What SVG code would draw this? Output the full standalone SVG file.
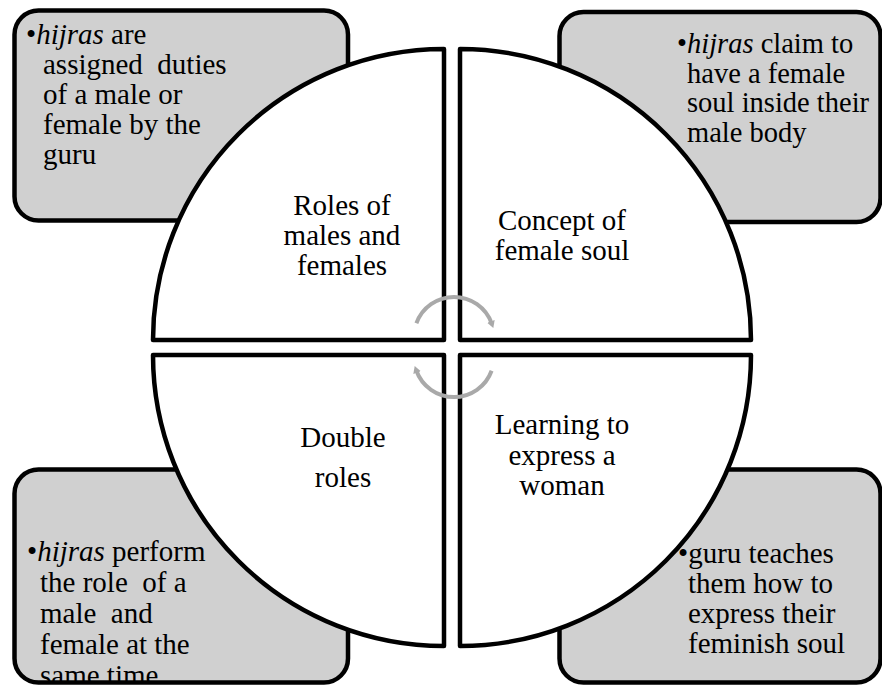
<svg xmlns="http://www.w3.org/2000/svg" width="882" height="686" viewBox="0 0 882 686">
  <style>
    .box { fill: #d0d0d0; stroke: #000; stroke-width: 4.5; }
    .quad { fill: #fff; stroke: #000; stroke-width: 4.5; stroke-linejoin: round; }
    .mid { text-anchor: middle; }
    .cycle { fill: none; stroke: #a9a9a9; stroke-width: 4; }
    text { white-space: pre; }
  </style>
  <defs>
    <marker id="tip" markerUnits="userSpaceOnUse" markerWidth="12" markerHeight="12" refX="2" refY="5" orient="auto">
      <path d="M0,1 L7,5 L0,9 Z" fill="#a9a9a9"/>
    </marker>
    <clipPath id="clipBL"><rect x="14" y="470" width="334" height="211"/></clipPath>
  </defs>

  <rect x="0" y="0" width="882" height="686" fill="#fff"/>

  <!-- side panels -->
  <g id="panel-tl">
    <rect class="box" x="14.5" y="10.5" width="333.5" height="210" rx="24"/>
  </g>
  <g id="panel-tr">
    <rect class="box" x="559.5" y="12" width="321" height="210" rx="24"/>
  </g>
  <g id="panel-bl">
    <rect class="box" x="14.5" y="469.5" width="333.5" height="213" rx="24"/>
  </g>
  <g id="panel-br">
    <rect class="box" x="559.5" y="469.5" width="321" height="213" rx="24"/>
  </g>

  <g font-family="Liberation Serif, Times New Roman, Times, DejaVu Serif, Noto Serif, serif" font-size="29" fill="#000">
  <!-- circle quadrants -->
  <g id="quad-tl">
    <path class="quad" d="M444,340 L444,49 A291,291 0 0 0 153,340 Z"/>
    <text class="mid" x="342" y="215">Roles of</text>
    <text class="mid" x="342" y="245">males and</text>
    <text class="mid" x="342" y="275">females</text>
  </g>
  <g id="quad-tr">
    <path class="quad" d="M460,340 L460,49 A291,291 0 0 1 751,340 Z"/>
    <text class="mid" x="562" y="230">Concept of</text>
    <text class="mid" x="562" y="260">female soul</text>
  </g>
  <g id="quad-bl">
    <path class="quad" d="M444,355 L153,355 A291,291 0 0 0 444,646 Z"/>
    <text class="mid" x="343" y="447">Double</text>
    <text class="mid" x="343" y="487">roles</text>
  </g>
  <g id="quad-br">
    <path class="quad" d="M460,355 L751,355 A291,291 0 0 1 460,646 Z"/>
    <text class="mid" x="562" y="434">Learning to</text>
    <text class="mid" x="562" y="465">express a</text>
    <text class="mid" x="562" y="495">woman</text>
  </g>

  <!-- panel texts -->
  <g id="text-tl">
    <text x="26" y="44">•<tspan font-style="italic">hijras</tspan> are</text>
    <text x="43" y="74">assigned  duties</text>
    <text x="43" y="104">of a male or</text>
    <text x="43" y="134">female by the</text>
    <text x="43" y="164">guru</text>
  </g>
  <g id="text-tr" font-size="28.5">
    <text x="677" y="53">•<tspan font-style="italic">hijras</tspan> claim to</text>
    <text x="687" y="82.5">have a female</text>
    <text x="687" y="112">soul inside their</text>
    <text x="687" y="141.5">male body</text>
  </g>
  <g id="text-bl" clip-path="url(#clipBL)">
    <text x="27" y="561">•<tspan font-style="italic">hijras</tspan> perform</text>
    <text x="40" y="592">the role  of a</text>
    <text x="40" y="623">male  and</text>
    <text x="40" y="654">female at the</text>
    <text x="40" y="685">same time</text>
  </g>
  <g id="text-br">
    <text x="678" y="563">•guru teaches</text>
    <text x="688" y="593">them how to</text>
    <text x="688" y="623">express their</text>
    <text x="688" y="653">feminish soul</text>
  </g>
  </g>

  <!-- cycle arrows in the centre -->
  <g id="connectors">
    <path class="cycle" d="M416.4,323.3 A40,40 0 0 1 491.6,323.3" marker-end="url(#tip)"/>
    <path class="cycle" d="M491.6,370.7 A40,40 0 0 1 416.4,370.7" marker-end="url(#tip)"/>
  </g>
</svg>
